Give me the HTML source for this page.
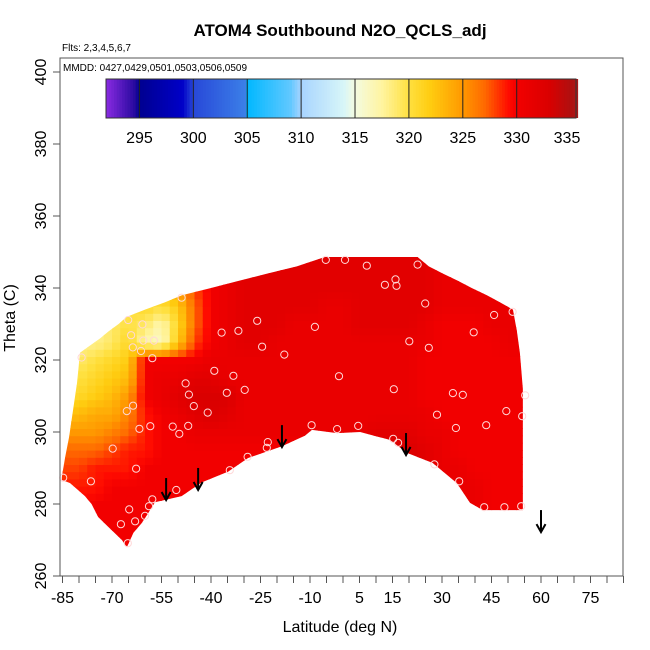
<!DOCTYPE html>
<html><head><meta charset="utf-8"><style>
html,body{margin:0;padding:0;background:#fff;}
svg{display:block;font-family:"Liberation Sans",Arial,sans-serif;}
</style></head><body>
<svg id="chart" width="650" height="650" viewBox="0 0 650 650">
<defs><clipPath id="dataClip"><polygon id="clipPoly" points=""/></clipPath></defs>
<text x="340" y="36" text-anchor="middle" font-size="17" font-weight="bold">ATOM4 Southbound N2O_QCLS_adj</text>
<text x="62" y="51" font-size="10">Flts: 2,3,4,5,6,7</text>
<g id="heat" clip-path="url(#dataClip)"></g>
<g id="pts"></g>
<g id="arrows"></g>
<rect x="60" y="58" width="563" height="518" fill="none" stroke="#555" stroke-width="1"/>
<text x="63" y="71" font-size="10">MMDD: 0427,0429,0501,0503,0506,0509</text>
<g id="cbar"></g>
<g id="xaxis"></g>
<g id="yaxis"></g>
<text x="340" y="632" text-anchor="middle" font-size="16">Latitude (deg N)</text>
<text transform="translate(15,318) rotate(-90)" text-anchor="middle" font-size="16">Theta (C)</text>
</svg>
<script>
const latCenters=[-85,-80,-75,-70,-65,-60,-55,-50,-45,-40,-35,-30,-25,-20,-15,-10,-5,0,5,10,15,20,25,30,35,40,45,50,55];
const thetaRows=[350,345,340,335,330,325,320,315,310,305,300,295,290,285,280,275,270,265];
const n2oGrid=[
[321,321,321,321,321,323,325,327,329,331,332,332,332,332,332,332,332,332,332,332,332,332,332,331,331,331,331,331,331],
[321,321,321,321,321,323,325,327,329,331,332,332,332,332,332,332,332,332,332,332,332,332,332,331,331,331,331,331,331],
[320,320,320,320,321,322,323,325,328,330,331,332,332,332,332,332,332,332,332,332,332,332,332,331,331,331,331,331,331],
[319,319,319,319,320,321,320,322,327,330,331,332,332,332,332,332,331,331,332,332,332,332,332,331,331,331,331,331,331],
[318,318,318,319,320,319,317,321,327,330,331,332,332,332,331,331,331,331,332,332,332,332,331,330,330,330,331,331,331],
[318,318,318,319,321,317,316,322,328,330,331,332,332,331,331,331,331,331,331,331,331,331,331,330,330,330,330,331,331],
[319,319,320,321,322,330,330,330,330,331,331,331,331,331,331,331,331,331,331,331,331,331,330,330,330,330,330,330,330],
[320,320,321,322,323,330,331,331,332,332,331,331,331,331,331,331,331,331,331,331,331,331,330,330,330,330,330,330,330],
[321,321,322,323,325,330,331,332,333,333,333,331,331,331,331,331,331,331,331,331,331,331,330,330,330,330,330,330,330],
[323,323,324,324,326,329,330,331,332,333,332,331,331,331,331,331,331,331,331,331,331,331,331,330,330,330,330,330,330],
[325,325,325,326,327,329,330,330,331,331,331,331,331,331,331,331,331,331,331,332,332,332,331,331,330,330,330,330,330],
[327,327,327,328,329,329,330,330,330,330,330,330,330,330,330,330,331,331,331,332,333,333,332,331,330,330,330,330,330],
[328,328,329,329,329,330,330,330,330,330,330,330,330,330,330,330,330,331,331,332,332,332,332,331,331,330,330,330,330],
[329,329,329,330,330,330,330,330,330,330,330,330,330,330,330,330,330,330,330,331,331,331,331,331,331,331,330,330,330],
[329.5,329.5,330,330,330,330,330,330,330,330,330,330,330,330,330,330,330,330,330,330,330,330,331,331,331,331,330,330,330],
[330,330,330,330,330,330,330,330,330,330,330,330,330,330,330,330,330,330,330,330,330,330,330,331,331,331,330,330,330],
[330,330,330,330,330,330,330,330,330,330,330,330,330,330,330,330,330,330,330,330,330,330,330,330,330,330,330,330,330],
[330,330,330,330,330,330,330,330,330,330,330,330,330,330,330,330,330,330,330,330,330,330,330,330,330,330,330,330,330]];
const boundaryLat=[-85.2,-84.2,-83,-81.8,-80.6,-79.7,-76.7,-73.6,-71,-68,-65.5,-60,-54,-48.8,-40,-31.5,-23,-14,-5.5,22.6,26,30.3,34.8,39,43.6,47.6,51.5,52.7,53.6,54.5,54.5,42.4,38.5,34.5,27.2,19.4,14.2,5.2,-1.8,-9.4,-11.5,-18.6,-28.7,-34.8,-42.8,-48.9,-57,-59,-61,-63.5,-65.5,-67,-71.1,-74.2,-76.2,-78.2,-80.7,-82.7,-85.2];
const boundaryTheta=[287.5,293,298.6,306.1,313.6,322,324,326,328,330,332,334,336,338,340,342,344,346,348.6,348.6,346,344,342,340,338,336,334,328,322,312,278.3,278.3,280.3,285.8,291.4,294.2,297.8,300,299.7,300.6,299,296,292.8,289,286,282.2,280.5,277.5,274.7,272,268,270,273.6,276.4,280,282.2,284.2,285.8,286.7];
const pointLat=[-48.9,-65.1,-60.8,-64.2,-60.5,-57.3,-63.7,-61.2,-57.8,-79.2,-26,-36.8,-31.7,-24.5,-17.8,-39,-33.2,-47.7,-46.7,-35.2,-29.8,-63.6,-65.5,-45.2,-41,-61.7,-58.4,-51.6,-46.9,-49.6,-69.8,-22.8,-23.1,-28.9,-62.7,-34.3,-84.8,-76.4,-50.5,-57.8,-58.8,-64.8,-63,-60,-67.3,-65.2,-5.2,0.6,7.2,22.6,15.9,12.7,16.2,24.9,45.8,51.4,-8.5,39.6,20.1,26,-1.2,15.4,33.3,36.3,55.2,49.5,54.3,28.5,34.2,43.4,-9.5,-1.8,4.6,15.2,16.7,27.7,35.2,42.8,48.9,54];
const pointTheta=[337.3,331.1,329.9,326.9,325.4,325.4,323.5,322.5,320.5,320.7,330.9,327.6,328.1,323.7,321.5,317,315.6,313.5,310.4,310.9,311.7,307.3,305.8,307.2,305.4,300.9,301.6,301.5,301.7,299.5,295.4,297.2,295.6,293.1,289.8,289.4,287.3,286.3,283.9,281.3,279.4,278.5,275.2,276.7,274.4,269.1,347.8,347.8,346.2,346.5,342.4,340.9,340.6,335.7,332.5,333.4,329.2,327.7,325.2,323.4,315.5,311.9,310.8,310.3,310.2,305.8,304.4,304.8,301.1,301.9,301.9,300.8,301.7,298.1,297,291,286.3,279.1,279.1,279.4];
const arrowLat=[-53.6,-43.9,-18.5,19.1,60];
const arrowTheta=[281.1,283.9,295.8,293.6,272.2];
const xTickLabels=[-85,-70,-55,-40,-25,-10,5,15,30,45,60,75];
const yTickLabels=[260,280,300,320,340,360,380,400];
const cbarTicks=[295,300,305,310,315,320,325,330,335];
const cbarMin=291.9, cbarMax=335.5;
const stopVals=[291.9,294.5,295,299,300,304.9,305,309,310,314,315,317.5,320,322,325,327,329.3,330,333,335,335.5];
const stopCols=["#8a2be2","#2a0aa0","#000090","#0000c8","#2848d8","#3c80e8","#00b8ff","#60c8ff","#a8d4ff","#d8f6f8","#f4fbe0","#fff4a0","#ffe040","#ffcc10","#ff9800","#ff6a00","#ff0a00","#f20000","#da0000","#b01010","#a81818"];

const NS="http://www.w3.org/2000/svg";
const xS=lat=>62.5+(lat+85)*3.3;
const yS=th=>576-(th-260)*3.6;
const cbX=v=>106+(v-cbarMin)/(cbarMax-cbarMin)*470;
function hex(c){return [parseInt(c.substr(1,2),16),parseInt(c.substr(3,2),16),parseInt(c.substr(5,2),16)];}
function colorOf(v){
  if(v<=stopVals[0])return stopCols[0];
  for(let i=1;i<stopVals.length;i++){
    if(v<=stopVals[i]){const t=(v-stopVals[i-1])/(stopVals[i]-stopVals[i-1]);
      const a=hex(stopCols[i-1]),b=hex(stopCols[i]);
      return "rgb("+a.map((x,k)=>Math.round(x+(b[k]-x)*t)).join(",")+")";}
  }
  return stopCols[stopCols.length-1];
}
function mk(tag,attrs,parent){const e=document.createElementNS(NS,tag);for(const k in attrs)e.setAttribute(k,attrs[k]);parent.appendChild(e);return e;}

document.getElementById('clipPoly').setAttribute('points',boundaryLat.map((l,i)=>xS(l)+","+yS(boundaryTheta[i])).join(" "));

const heat=document.getElementById('heat');
function gridVal(lat,th){
  let fi=(lat-latCenters[0])/5, fj=(thetaRows[0]-th)/5;
  fi=Math.max(0,Math.min(latCenters.length-1,fi)); fj=Math.max(0,Math.min(thetaRows.length-1,fj));
  const i0=Math.floor(fi),j0=Math.floor(fj),i1=Math.min(i0+1,latCenters.length-1),j1=Math.min(j0+1,thetaRows.length-1);
  const u=fi-i0,w=fj-j0;
  const a=n2oGrid[j0][i0],b=n2oGrid[j0][i1],c=n2oGrid[j1][i0],d=n2oGrid[j1][i1];
  return a*(1-u)*(1-w)+b*u*(1-w)+c*(1-u)*w+d*u*w;
}
for(let lat=-87.5;lat<57.5;lat+=2.5){
  for(let th=265;th<352;th+=2){
    const r=mk('rect',{x:xS(lat).toFixed(2),y:yS(th+2).toFixed(2),width:(2.5*3.3+0.6).toFixed(2),height:(2*3.6+0.6).toFixed(2),fill:colorOf(gridVal(lat+1.25,th+1))},heat);
    
    
  }
}
const pts=document.getElementById('pts');
pointLat.forEach((l,i)=>{
  const c=mk('circle',{cx:xS(l).toFixed(1),cy:yS(pointTheta[i]).toFixed(1),r:3.6,fill:"none",stroke:"#ffd8d8","stroke-width":1},pts);
  
  
});
const ar=document.getElementById('arrows');
arrowLat.forEach((l,i)=>{
  const x=xS(l),y=yS(arrowTheta[i]);
  const g=mk('g',{stroke:"#000","stroke-width":2,fill:"none"},ar);
  
  
  mk('line',{x1:x,y1:y-22,x2:x,y2:y},g);
  mk('polyline',{points:(x-4.5)+","+(y-8)+" "+x+","+y+" "+(x+4.5)+","+(y-8)},g);
});
const cb=document.getElementById('cbar');
for(let v=cbarMin;v<cbarMax;v+=0.25){
  const r=mk('rect',{x:cbX(v).toFixed(2),y:79,width:(0.25*470/(cbarMax-cbarMin)+0.5).toFixed(2),height:39,fill:colorOf(v+0.125)},cb);
  
  
}
mk('rect',{x:106,y:79,width:470,height:39,fill:"none",stroke:"#333","stroke-width":1},cb);
cbarTicks.forEach(v=>{
  if(v<335){const l=mk('line',{x1:cbX(v),y1:79,x2:cbX(v),y2:118,stroke:"#222","stroke-width":1},cb);
  
  }
  const t=mk('text',{x:Math.min(cbX(v),567),y:143,"text-anchor":"middle","font-size":16},cb);
  t.textContent=v;
  
  
});
const xa=document.getElementById('xaxis');
mk('line',{x1:xS(-85),y1:576,x2:xS(85),y2:576,stroke:"#555"},xa);
for(let l=-85;l<=85;l+=5){const tk=mk('line',{x1:xS(l),y1:576,x2:xS(l),y2:583,stroke:"#555"},xa);
  
  }
xTickLabels.forEach(l=>{const t=mk('text',{x:xS(l),y:603,"text-anchor":"middle","font-size":16},xa);
  t.textContent=l;
  
  });
const ya=document.getElementById('yaxis');
yTickLabels.forEach(v=>{
  const tk=mk('line',{x1:53,y1:yS(v),x2:60,y2:yS(v),stroke:"#555"},ya);
  
  
  const t=mk('text',{transform:"translate(46,"+yS(v)+") rotate(-90)","text-anchor":"middle","font-size":16},ya);
  t.textContent=v;
  
  
});
</script>
</body></html>
